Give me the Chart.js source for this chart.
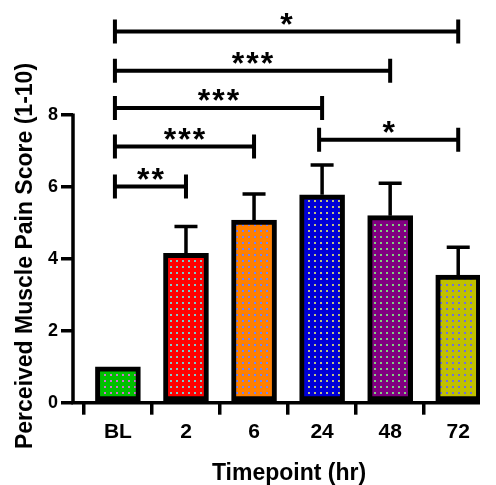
<!DOCTYPE html>
<html>
<head>
    <title>Perceived Muscle Pain Score</title>
    <script src="https://cdn.jsdelivr.net/npm/chart.js@4.4.0/dist/chart.umd.min.js"></script>
    <style>
        body { margin: 0; background: #fff; }
    </style>
</head>
<body>
    <canvas id="painChart" width="496" height="485"></canvas>
    <script>
        // data
        var categories = ['BL', '2', '6', '24', '48', '72'];
        var meanScores = [1.0, 4.15, 5.08, 5.78, 5.2, 3.55];
        var errorUpper = [0, 0.75, 0.72, 0.83, 0.9, 0.77];
        var yTicks = [0, 2, 4, 6, 8];
        var barColors = ['#00c000', '#ff0000', '#ff8000', '#0000d8', '#800080', '#c0c000'];
        var dotColors = ['#d070d0', '#80c8c8', '#7080ff', '#c0c080', '#80d080', '#7070e0'];

        // significance brackets
        var bracketFrom = [0, 0, 0, 0, 0, 3];
        var bracketTo = [5, 4, 3, 2, 1, 5];
        var bracketLevel = [10.32, 9.23, 8.19, 7.12, 6.01, 7.31];
        var bracketLabels = ['*', '***', '***', '***', '**', '*'];

        var FONT = '"Liberation Sans", Arial, sans-serif';

        var canvas = document.getElementById('painChart');
        var ctx = canvas.getContext('2d');

        function dotPattern(base, dot) {
            var c = document.createElement('canvas');
            c.width = 6; c.height = 6;
            var g = c.getContext('2d');
            g.fillStyle = base;
            g.fillRect(0, 0, 6, 6);
            g.fillStyle = dot;
            g.fillRect(2, 2, 2, 2);
            return ctx.createPattern(c, 'repeat');
        }
        var patterns = barColors.map(function (c, i) { return dotPattern(c, dotColors[i]); });

        var extras = {
            id: 'extras',
            afterDatasetsDraw: function (chart) {
                var x = chart.scales.x, y = chart.scales.y;
                var c = chart.ctx;
                c.save();
                c.strokeStyle = '#000';
                c.lineCap = 'butt';

                // error bars (upper only)
                c.lineWidth = 3.5;
                meanScores.forEach(function (m, i) {
                    if (!errorUpper[i]) return;
                    var px = x.getPixelForValue(i);
                    var top = y.getPixelForValue(m + errorUpper[i]);
                    c.beginPath();
                    c.moveTo(px, y.getPixelForValue(m));
                    c.lineTo(px, top);
                    c.moveTo(px - 11.5, top);
                    c.lineTo(px + 11.5, top);
                    c.stroke();
                });

                // axes
                var x0 = chart.chartArea.left, y0 = y.getPixelForValue(0);
                c.lineWidth = 3.5;
                c.beginPath();
                c.moveTo(x0, y.getPixelForValue(8) - 1.5);
                c.lineTo(x0, y0);
                c.lineTo(chart.chartArea.right, y0);
                c.stroke();

                // brackets
                c.lineWidth = 4;
                c.fillStyle = '#000';
                c.font = 'bold 32px ' + FONT;
                c.textAlign = 'center';
                c.textBaseline = 'alphabetic';
                if ('letterSpacing' in c) c.letterSpacing = '2px';
                bracketLevel.forEach(function (lv, i) {
                    var xa = x.getPixelForValue(bracketFrom[i]) - 3;
                    var xb = x.getPixelForValue(bracketTo[i]);
                    var py = y.getPixelForValue(lv);
                    c.beginPath();
                    c.moveTo(xa, py); c.lineTo(xb, py);
                    c.moveTo(xa, py - 12); c.lineTo(xa, py + 12);
                    c.moveTo(xb, py - 12); c.lineTo(xb, py + 12);
                    c.stroke();
                    c.fillText(bracketLabels[i], (xa + xb) / 2 + 1, py + 3);
                });
                if ('letterSpacing' in c) c.letterSpacing = '0px';

                // axis titles
                c.font = 'bold 23px ' + FONT;
                c.textAlign = 'center';
                c.fillText('Timepoint (hr)', 289, 480);
                c.translate(32, 256);
                c.rotate(-Math.PI / 2);
                c.fillText('Perceived Muscle Pain Score (1-10)', 0, 0);
                c.restore();
            }
        };

        var chart = new Chart(ctx, {
            type: 'bar',
            data: {
                datasets: [{
                    data: categories.map(function (c, i) { return { x: i, y: meanScores[i] }; }),
                    backgroundColor: patterns,
                    borderColor: '#000',
                    borderWidth: 5,
                    borderSkipped: false,
                    barThickness: 45
                }]
            },
            options: {
                responsive: false,
                animation: false,
                layout: { padding: { top: 20, right: 16, left: 0, bottom: 0 } },
                plugins: { legend: { display: false }, tooltip: { enabled: false } },
                scales: {
                    x: {
                        type: 'linear',
                        min: -0.66,
                        max: 5.32,
                        offset: false,
                        afterBuildTicks: function (s) { s.ticks = categories.map(function (c, i) { return { value: i }; }); },
                        afterFit: function (s) { s.height = 82.3; },
                        ticks: {
                            callback: function (v) { return categories[v]; },
                            font: { family: FONT, size: 21, weight: 'bold' },
                            color: '#000',
                            padding: 5,
                            maxRotation: 0
                        },
                        grid: { drawOnChartArea: false, drawTicks: true, tickLength: 12, color: '#000', lineWidth: 3.5 },
                        border: { display: false }
                    },
                    y: {
                        min: 0,
                        max: 10.64,
                        afterBuildTicks: function (s) { s.ticks = yTicks.map(function (v) { return { value: v }; }); },
                        afterFit: function (s) { s.width = 73; },
                        ticks: {
                            font: { family: FONT, size: 18, weight: 'bold' },
                            color: '#000',
                            padding: 3
                        },
                        grid: { drawOnChartArea: false, drawTicks: true, tickLength: 12, color: '#000', lineWidth: 3.5 },
                        border: { display: false }
                    }
                }
            },
            plugins: [extras]
        });
    </script>
</body>
</html>
